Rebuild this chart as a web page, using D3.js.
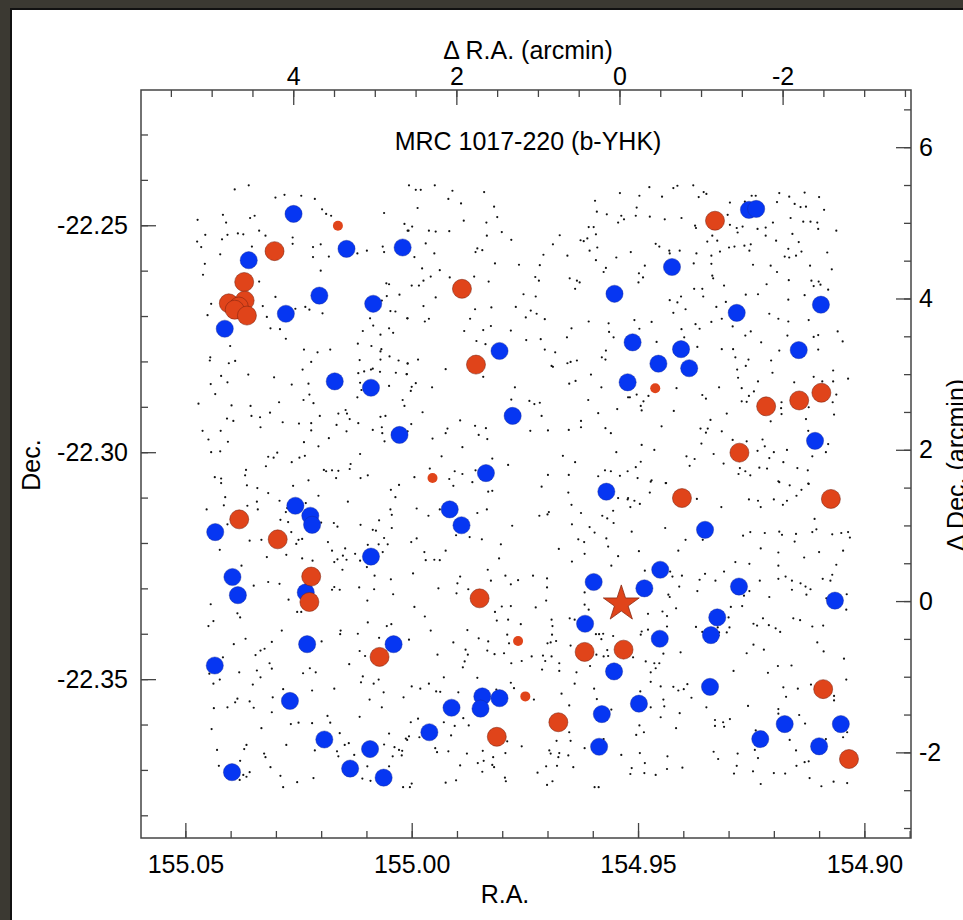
<!DOCTYPE html>
<html>
<head>
<meta charset="utf-8">
<script src="https://cdn.jsdelivr.net/npm/d3@7"></script>
<style>
  body { margin: 0; background: #3b3932; }
  svg { display: block; }
</style>
</head>
<body>
<div id="wrapper"></div>
<script>
// field sources (R.A., Dec. in degrees)
const fieldStars = [
  [155.0391,-22.2421],[155.0360,-22.2412],[155.0301,-22.2439],[155.0281,-22.2433],[155.0244,-22.2435],[155.0214,-22.2442],[155.0198,-22.2465],[155.0189,-22.2475],[155.0178,-22.2479],[155.0473,-22.2488],[155.0417,-22.2477],[155.0410,-22.2494],[155.0357,-22.2484],[155.0347,-22.2479],[155.0061,-22.2473],[155.0016,-22.2497],[155.0007,-22.2512],[155.0456,-22.2521],[155.0407,-22.2521],[155.0384,-22.2518],[155.0372,-22.2520],[155.0419,-22.2531],[155.0337,-22.2512],[155.0323,-22.2523],[155.0263,-22.2527],[155.0474,-22.2536],[155.0465,-22.2548],[155.0353,-22.2547],[155.0263,-22.2541],[155.0218,-22.2548],[155.0201,-22.2542],[155.0120,-22.2562],[155.0099,-22.2556],[155.0064,-22.2547],[155.0061,-22.2559],[155.0423,-22.2564],[155.0218,-22.2570],[155.0183,-22.2569],[155.0457,-22.2585],[155.0461,-22.2609],[155.0201,-22.2600],[155.0337,-22.2624],[155.0056,-22.2628],[155.0050,-22.2630],[155.0443,-22.2673],[155.0451,-22.2698],[155.0329,-22.2678],[155.0301,-22.2658],[155.0320,-22.2702],[155.0257,-22.2684],[155.0235,-22.2680],[155.0226,-22.2686],[155.0197,-22.2694],[155.0055,-22.2656],[155.0066,-22.2666],[155.0027,-22.2653],[155.0047,-22.2689],[155.0036,-22.2690],[155.0010,-22.2705],[155.0092,-22.2705],[155.0085,-22.2721],[155.0312,-22.2727],[155.0291,-22.2729],[155.0278,-22.2750],[155.0108,-22.2733],[155.0069,-22.2741],[155.0050,-22.2727],[155.0041,-22.2737],[155.0401,-22.2766],[155.0119,-22.2761],[155.0089,-22.2766],[155.0067,-22.2773],[155.0069,-22.2778],[155.0445,-22.2791],[155.0446,-22.2798],[155.0238,-22.2774],[155.0208,-22.2780],[155.0180,-22.2774],[155.0404,-22.2804],[155.0390,-22.2799],[155.0222,-22.2801],[155.0115,-22.2797],[155.0090,-22.2818],[155.0069,-22.2796],[155.0049,-22.2789],[155.0029,-22.2798],[155.0009,-22.2804],[155.0241,-22.2818],[155.0118,-22.2826],[155.0105,-22.2822],[155.0086,-22.2816],[155.0070,-22.2823],[155.0035,-22.2825],[155.0011,-22.2828],[155.0421,-22.2832],[155.0361,-22.2829],[155.0304,-22.2835],[155.0407,-22.2846],[155.0444,-22.2850],[155.0265,-22.2851],[155.0228,-22.2849],[155.0114,-22.2847],[155.0111,-22.2863],[155.0050,-22.2854],[155.0434,-22.2872],[155.0226,-22.2873],[155.0239,-22.2885],[155.0120,-22.2879],[155.0020,-22.2885],[155.0016,-22.2898],[155.0471,-22.2893],[155.0293,-22.2890],[155.0217,-22.2892],[155.0398,-22.2897],[155.0356,-22.2898],[155.0354,-22.2920],[155.0335,-22.2923],[155.0313,-22.2913],[155.0408,-22.2926],[155.0394,-22.2931],[155.0285,-22.2934],[155.0249,-22.2937],[155.0222,-22.2936],[155.0203,-22.2920],[155.0162,-22.2915],[155.0146,-22.2907],[155.0143,-22.2915],[155.0137,-22.2927],[155.0118,-22.2936],[155.0166,-22.2940],[155.0069,-22.2922],[155.0058,-22.2920],[155.0462,-22.2953],[155.0422,-22.2953],[155.0334,-22.2945],[155.0222,-22.2952],[155.0144,-22.2954],[155.0086,-22.2951],[155.0066,-22.2945],[155.0065,-22.2958],[155.0009,-22.2954],[155.0449,-22.2972],[155.0406,-22.2977],[155.0238,-22.2978],[155.0183,-22.2969],[155.0060,-22.2976],[155.0443,-22.3000],[155.0423,-22.2998],[155.0206,-22.2987],[155.0317,-22.3010],[155.0305,-22.3012],[155.0297,-22.3001],[155.0248,-22.3012],[155.0236,-22.3008],[155.0265,-22.3022],[155.0114,-22.3004],[155.0322,-22.3031],[155.0194,-22.3039],[155.0189,-22.3042],[155.0176,-22.3040],[155.0162,-22.3041],[155.0137,-22.3037],[155.0135,-22.3026],[155.0366,-22.3039],[155.0368,-22.3051],[155.0435,-22.3055],[155.0421,-22.3058],[155.0228,-22.3062],[155.0167,-22.3057],[155.0113,-22.3057],[155.0097,-22.3051],
  [155.0006,-22.2412],[154.9991,-22.2422],[154.9980,-22.2422],[154.9949,-22.2412],[154.9910,-22.2424],[154.9840,-22.2427],[154.9919,-22.2442],[154.9891,-22.2452],[154.9987,-22.2462],[154.9818,-22.2459],[154.9811,-22.2482],[154.9885,-22.2490],[154.9835,-22.2494],[154.9999,-22.2503],[155.0009,-22.2512],[154.9962,-22.2512],[154.9947,-22.2514],[154.9917,-22.2513],[154.9834,-22.2523],[154.9801,-22.2515],[154.9780,-22.2532],[154.9969,-22.2540],[154.9855,-22.2551],[154.9859,-22.2559],[154.9844,-22.2555],[154.9950,-22.2562],[154.9994,-22.2570],[154.9816,-22.2584],[154.9763,-22.2587],[154.9717,-22.2588],[154.9673,-22.2522],[154.9688,-22.2542],[154.9709,-22.2565],[154.9656,-22.2567],[154.9627,-22.2533],[154.9620,-22.2535],[154.9612,-22.2529],[154.9609,-22.2504],[154.9598,-22.2504],[154.9593,-22.2520],[154.9590,-22.2549],[154.9607,-22.2556],[154.9593,-22.2577],[154.9595,-22.2446],[154.9591,-22.2470],[154.9569,-22.2476],[154.9540,-22.2429],[154.9537,-22.2479],[154.9531,-22.2487],[154.9544,-22.2494],[154.9548,-22.2571],[154.9571,-22.2594],[154.9576,-22.2603],[154.9977,-22.2595],[154.9938,-22.2599],[154.9958,-22.2613],[154.9974,-22.2622],[154.9984,-22.2633],[155.0000,-22.2633],[154.9916,-22.2615],[154.9862,-22.2613],[154.9830,-22.2624],[154.9727,-22.2614],[154.9719,-22.2622],[154.9753,-22.2652],[154.9726,-22.2657],[154.9651,-22.2617],[154.9635,-22.2622],[154.9629,-22.2626],[154.9639,-22.2640],[154.9947,-22.2659],[154.9974,-22.2678],[154.9962,-22.2706],[154.9971,-22.2712],[155.0009,-22.2705],[154.9860,-22.2685],[154.9871,-22.2706],[154.9824,-22.2681],[154.9770,-22.2680],[154.9737,-22.2688],[154.9724,-22.2695],[154.9748,-22.2703],[154.9706,-22.2707],[154.9609,-22.2712],[154.9565,-22.2716],[154.9564,-22.2735],[154.9554,-22.2747],[154.9647,-22.2727],[154.9657,-22.2747],[154.9884,-22.2733],[154.9842,-22.2731],[154.9825,-22.2722],[154.9781,-22.2732],[154.9857,-22.2755],[154.9837,-22.2762],[154.9747,-22.2753],[154.9715,-22.2751],[154.9706,-22.2774],[154.9683,-22.2780],[154.9580,-22.2791],[154.9571,-22.2776],[154.9572,-22.2796],[154.9656,-22.2804],[154.9649,-22.2801],[154.9635,-22.2798],[154.9691,-22.2810],[154.9688,-22.2812],[154.9986,-22.2796],[155.0009,-22.2805],[154.9925,-22.2817],[155.0011,-22.2828],[154.9842,-22.2834],[154.9991,-22.2848],[155.0000,-22.2856],[155.0002,-22.2865],[154.9955,-22.2857],[154.9604,-22.2829],[154.9581,-22.2857],[154.9638,-22.2843],[154.9652,-22.2849],[154.9772,-22.2857],[154.9780,-22.2884],[154.9740,-22.2887],[154.9729,-22.2894],[154.9717,-22.2891],[154.9610,-22.2885],[154.9588,-22.2914],[154.9546,-22.2905],[154.9713,-22.2920],[154.9976,-22.2912],[155.0001,-22.2938],[154.9921,-22.2948],[154.9893,-22.2930],[154.9860,-22.2942],[154.9836,-22.2947],[154.9852,-22.2962],[154.9833,-22.2971],[154.9925,-22.2958],[154.9954,-22.2970],[154.9738,-22.2953],[154.9699,-22.2952],[154.9653,-22.2951],[154.9626,-22.2931],[154.9626,-22.2945],[154.9572,-22.2947],[154.9560,-22.2958],[154.9522,-22.2879],[154.9548,-22.3000],[154.9639,-22.3022],[154.9666,-22.3008],[154.9573,-22.3040],[154.9560,-22.3042],[154.9540,-22.3052],[154.9588,-22.3053],[154.9699,-22.3050],[154.9653,-22.3050],[154.9787,-22.3028],[154.9822,-22.3014],[154.9888,-22.2989],[154.9934,-22.3009],[154.9960,-22.3036],[154.9905,-22.3042],[154.9888,-22.3048],[154.9859,-22.3040],[154.9917,-22.3059],[154.9994,-22.3055],
  [154.9475,-22.2416],[154.9422,-22.2418],[154.9413,-22.2413],[154.9378,-22.2412],[154.9355,-22.2427],[154.9349,-22.2431],[154.9366,-22.2438],[154.9497,-22.2435],[154.9447,-22.2437],[154.9297,-22.2450],[154.9264,-22.2448],[154.9249,-22.2435],[154.9240,-22.2435],[154.9188,-22.2429],[154.9166,-22.2437],[154.9132,-22.2428],[154.9100,-22.2438],[154.9193,-22.2449],[154.9154,-22.2453],[154.9141,-22.2460],[154.9129,-22.2459],[154.9089,-22.2466],[154.9503,-22.2461],[154.9505,-22.2479],[154.9474,-22.2481],[154.9441,-22.2487],[154.9404,-22.2484],[154.9374,-22.2501],[154.9372,-22.2506],[154.9302,-22.2477],[154.9297,-22.2499],[154.9282,-22.2506],[154.9280,-22.2516],[154.9269,-22.2503],[154.9236,-22.2508],[154.9218,-22.2505],[154.9218,-22.2523],[154.9202,-22.2494],[154.9163,-22.2484],[154.9135,-22.2492],[154.9119,-22.2492],[154.9104,-22.2494],[154.9102,-22.2508],[154.9062,-22.2512],[154.9159,-22.2519],[154.9145,-22.2537],[154.9195,-22.2534],[154.9336,-22.2523],[154.9347,-22.2536],[154.9325,-22.2534],[154.9461,-22.2541],[154.9453,-22.2547],[154.9431,-22.2556],[154.9408,-22.2556],[154.9430,-22.2562],[154.9371,-22.2562],[154.9338,-22.2567],[154.9319,-22.2558],[154.9299,-22.2549],[154.9287,-22.2547],[154.9265,-22.2545],[154.9251,-22.2542],[154.9254,-22.2556],[154.9516,-22.2559],[154.9168,-22.2552],[154.9176,-22.2569],[154.9166,-22.2571],[154.9151,-22.2567],[154.9139,-22.2558],[154.9082,-22.2560],[154.9485,-22.2589],[154.9498,-22.2606],[154.9489,-22.2615],[154.9499,-22.2626],[154.9377,-22.2584],[154.9338,-22.2585],[154.9336,-22.2611],[154.9334,-22.2617],[154.9310,-22.2633],[154.9246,-22.2587],[154.9207,-22.2589],[154.9193,-22.2603],[154.9167,-22.2621],[154.9120,-22.2589],[154.9117,-22.2622],[154.9101,-22.2624],[154.9097,-22.2631],[154.9112,-22.2634],[154.9080,-22.2642],[154.9072,-22.2597],[154.9216,-22.2630],[154.9376,-22.2640],[154.9358,-22.2640],[154.9356,-22.2657],[154.9405,-22.2657],[154.9413,-22.2670],[154.9430,-22.2665],[154.9395,-22.2685],[154.9422,-22.2693],[154.9327,-22.2680],[154.9306,-22.2669],[154.9262,-22.2653],[154.9235,-22.2652],[154.9168,-22.2664],[154.9132,-22.2654],[154.9508,-22.2709],[154.9497,-22.2728],[154.9470,-22.2713],[154.9404,-22.2729],[154.9398,-22.2747],[154.9373,-22.2718],[154.9364,-22.2728],[154.9338,-22.2713],[154.9315,-22.2706],[154.9291,-22.2723],[154.9263,-22.2743],[154.9251,-22.2734],[154.9210,-22.2695],[154.9190,-22.2706],[154.9168,-22.2712],[154.9123,-22.2709],[154.9059,-22.2734],[154.9048,-22.2756],[154.9102,-22.2742],[154.9112,-22.2746],[154.9170,-22.2743],[154.9228,-22.2758],[154.9459,-22.2757],[154.9369,-22.2768],[154.9315,-22.2773],[154.9290,-22.2773],[154.9285,-22.2791],[154.9256,-22.2796],[154.9262,-22.2810],[154.9281,-22.2818],[154.9279,-22.2836],[154.9206,-22.2798],[154.9203,-22.2825],[154.9188,-22.2776],[154.9102,-22.2774],[154.9069,-22.2820],[154.9036,-22.2838],[154.9112,-22.2834],[154.9093,-22.2844],[154.9069,-22.2844],[154.9155,-22.2846],[154.9183,-22.2890],[154.9184,-22.2903],[154.9183,-22.2916],[154.9207,-22.2932],[154.9129,-22.2927],[154.9123,-22.2901],[154.9062,-22.2873],[154.9070,-22.2890],[154.9067,-22.2917],[154.9235,-22.2844],[154.9271,-22.2859],[154.9244,-22.2866],[154.9255,-22.2876],[154.9260,-22.2889],[154.9271,-22.2888],[154.9304,-22.2915],[154.9321,-22.2857],[154.9358,-22.2874],[154.9350,-22.2882],[154.9415,-22.2859],[154.9477,-22.2876],[154.9488,-22.2888],[154.9494,-22.2898],[154.9492,-22.2908],[154.9518,-22.2879],[154.9503,-22.2873],[154.9421,-22.2909],[154.9340,-22.2929],[154.9362,-22.2948],[154.9346,-22.2948],[154.9350,-22.2957],[154.9315,-22.2954],[154.9448,-22.2943],[154.9360,-22.2981],[154.9492,-22.2984],[154.9464,-22.2995],[154.9333,-22.3004],[154.9291,-22.2973],[154.9260,-22.2976],[154.9225,-22.2972],[154.9220,-22.2987],[154.9236,-22.2997],[154.9200,-22.3000],[154.9171,-22.2995],[154.9210,-22.3013],[154.9179,-22.3022],[154.9124,-22.2953],[154.9080,-22.2982],[154.9085,-22.3000],[154.9115,-22.3009],[154.9393,-22.3009],[154.9375,-22.3015],[154.9386,-22.3030],[154.9311,-22.3025],[154.9275,-22.3035],[154.9263,-22.3042],[154.9252,-22.3051],[154.9232,-22.3034],[154.9215,-22.3036],[154.9278,-22.3048],[154.9148,-22.3035],[154.9125,-22.3040],[154.9494,-22.3021],[154.9505,-22.3033],[154.9523,-22.3042],[154.9501,-22.3057],[154.9470,-22.3062],[154.9438,-22.3068],[154.9190,-22.3064],[154.9124,-22.3069],
  [155.0421,-22.3068],[155.0364,-22.3073],[155.0341,-22.3079],[155.0317,-22.3090],[155.0262,-22.3074],[155.0412,-22.3099],[155.0415,-22.3117],[155.0363,-22.3118],[155.0342,-22.3109],[155.0340,-22.3126],[155.0292,-22.3107],[155.0278,-22.3132],[155.0275,-22.3123],[155.0234,-22.3112],[155.0206,-22.3096],[155.0141,-22.3109],[155.0453,-22.3126],[155.0407,-22.3159],[155.0332,-22.3193],[155.0358,-22.3195],[155.0290,-22.3149],[155.0273,-22.3154],[155.0266,-22.3176],[155.0250,-22.3193],[155.0255,-22.3202],[155.0242,-22.3191],[155.0200,-22.3155],[155.0172,-22.3156],[155.0164,-22.3164],[155.0185,-22.3198],[155.0113,-22.3160],[155.0086,-22.3171],[155.0079,-22.3173],[155.0072,-22.3150],[155.0061,-22.3189],[155.0073,-22.3203],[155.0053,-22.3203],[155.0044,-22.3167],[155.0047,-22.3126],[155.0044,-22.3138],[155.0036,-22.3099],[155.0028,-22.3072],[155.0046,-22.3083],[155.0424,-22.3215],[155.0320,-22.3231],[155.0277,-22.3226],[155.0242,-22.3234],[155.0219,-22.3239],[155.0176,-22.3217],[155.0171,-22.3242],[155.0164,-22.3236],[155.0152,-22.3228],[155.0144,-22.3237],[155.0147,-22.3212],[155.0125,-22.3224],[155.0114,-22.3239],[155.0097,-22.3204],[155.0099,-22.3253],[155.0064,-22.3220],[155.0082,-22.3272],[155.0046,-22.3280],[155.0041,-22.3313],[155.0153,-22.3259],[155.0376,-22.3250],[155.0349,-22.3294],[155.0317,-22.3286],[155.0292,-22.3290],[155.0272,-22.3325],[155.0253,-22.3352],[155.0244,-22.3352],[155.0176,-22.3303],[155.0171,-22.3297],[155.0159,-22.3303],[155.0116,-22.3298],[155.0083,-22.3302],[155.0098,-22.3327],[155.0444,-22.3335],[155.0438,-22.3372],[155.0449,-22.3383],[155.0385,-22.3355],[155.0379,-22.3364],[155.0097,-22.3375],[155.0055,-22.3383],[155.0045,-22.3379],[155.0157,-22.3393],[155.0158,-22.3401],[155.0119,-22.3400],[155.0072,-22.3409],[155.0367,-22.3411],[155.0393,-22.3423],[155.0345,-22.3447],[155.0334,-22.3437],[155.0325,-22.3433],[155.0309,-22.3418],[155.0287,-22.3393],[155.0199,-22.3417],[155.0115,-22.3438],[155.0103,-22.3449],[155.0108,-22.3494],[155.0112,-22.3507],[155.0084,-22.3510],[155.0073,-22.3501],[155.0062,-22.3529],[155.0138,-22.3467],[155.0314,-22.3465],[155.0309,-22.3477],[155.0342,-22.3481],[155.0334,-22.3496],[155.0381,-22.3485],[155.0417,-22.3452],[155.0447,-22.3488],[155.0424,-22.3501],[155.0438,-22.3510],[155.0351,-22.3512],[155.0240,-22.3487],[155.0225,-22.3476],[155.0212,-22.3485],[155.0220,-22.3525],[155.0171,-22.3521],[155.0093,-22.3545],[155.0066,-22.3562],[155.0018,-22.3540],[155.0115,-22.3583],[155.0186,-22.3581],[155.0180,-22.3596],[155.0220,-22.3597],[155.0250,-22.3596],[155.0267,-22.3599],[155.0284,-22.3522],[155.0307,-22.3540],[155.0309,-22.3573],[155.0332,-22.3608],[155.0390,-22.3551],[155.0407,-22.3562],[155.0437,-22.3564],[155.0358,-22.3549],[155.0349,-22.3563],[155.0385,-22.3543],[155.0442,-22.3610],[155.0430,-22.3656],[155.0370,-22.3654],[155.0365,-22.3645],[155.0326,-22.3664],[155.0323,-22.3672],[155.0277,-22.3645],[155.0214,-22.3657],[155.0159,-22.3619],[155.0148,-22.3645],[155.0139,-22.3641],[155.0165,-22.3659],[155.0162,-22.3670],[155.0127,-22.3667],[155.0061,-22.3644],[155.0050,-22.3620],[155.0038,-22.3650],[155.0028,-22.3656],[155.0021,-22.3658],[155.0042,-22.3670],[155.0022,-22.3668],[155.0010,-22.3634],[155.0006,-22.3626],[155.0050,-22.3692],[155.0426,-22.3691],[155.0379,-22.3680],[155.0372,-22.3711],[155.0365,-22.3715],[155.0358,-22.3705],[155.0380,-22.3722],[155.0312,-22.3694],[155.0290,-22.3713],[155.0284,-22.3738],[155.0253,-22.3727],[155.0217,-22.3718],[155.0109,-22.3719],[155.0091,-22.3724],[155.0098,-22.3692],[155.0019,-22.3738],
  [154.9908,-22.3074],[154.9866,-22.3066],[154.9831,-22.3087],[154.9822,-22.3085],[154.9713,-22.3076],[154.9654,-22.3089],[154.9647,-22.3116],[154.9626,-22.3134],[154.9646,-22.3159],[154.9632,-22.3192],[154.9607,-22.3165],[154.9596,-22.3177],[154.9579,-22.3140],[154.9568,-22.3146],[154.9554,-22.3156],[154.9555,-22.3129],[154.9544,-22.3101],[154.9523,-22.3104],[154.9989,-22.3124],[154.9963,-22.3140],[154.9938,-22.3126],[154.9855,-22.3134],[154.9834,-22.3126],[154.9778,-22.3162],[154.9718,-22.3140],[154.9700,-22.3137],[154.9697,-22.3132],[154.9902,-22.3183],[154.9872,-22.3187],[154.9845,-22.3192],[154.9803,-22.3203],[154.9989,-22.3190],[155.0001,-22.3198],[154.9972,-22.3220],[154.9925,-22.3217],[154.9969,-22.3238],[154.9950,-22.3237],[154.9938,-22.3238],[154.9807,-22.3234],[154.9675,-22.3213],[154.9646,-22.3241],[154.9619,-22.3198],[154.9618,-22.3224],[154.9570,-22.3190],[154.9566,-22.3208],[154.9544,-22.3229],[154.9559,-22.3250],[154.9832,-22.3259],[154.9997,-22.3267],[154.9893,-22.3274],[154.9899,-22.3289],[154.9901,-22.3311],[154.9875,-22.3302],[154.9825,-22.3283],[154.9793,-22.3272],[154.9765,-22.3282],[154.9781,-22.3291],[154.9732,-22.3272],[154.9701,-22.3278],[154.9701,-22.3298],[154.9703,-22.3327],[154.9726,-22.3342],[154.9781,-22.3339],[154.9801,-22.3340],[154.9941,-22.3300],[154.9994,-22.3341],[154.9971,-22.3362],[154.9958,-22.3393],[155.0006,-22.3413],[154.9908,-22.3419],[154.9877,-22.3392],[154.9852,-22.3410],[154.9831,-22.3417],[154.9833,-22.3437],[154.9817,-22.3445],[154.9796,-22.3443],[154.9816,-22.3352],[154.9812,-22.3371],[154.9787,-22.3369],[154.9759,-22.3379],[154.9757,-22.3460],[154.9780,-22.3465],[154.9881,-22.3435],[154.9876,-22.3446],[154.9883,-22.3461],[154.9887,-22.3474],[154.9943,-22.3446],[154.9855,-22.3497],[154.9929,-22.3496],[154.9789,-22.3402],[154.9785,-22.3421],[154.9735,-22.3450],[154.9710,-22.3448],[154.9705,-22.3460],[154.9691,-22.3450],[154.9674,-22.3465],[154.9693,-22.3419],[154.9690,-22.3402],[154.9681,-22.3416],[154.9700,-22.3421],[154.9712,-22.3479],[154.9674,-22.3482],[154.9691,-22.3369],[154.9689,-22.3383],[154.9651,-22.3366],[154.9640,-22.3369],[154.9649,-22.3426],[154.9636,-22.3485],[154.9618,-22.3309],[154.9618,-22.3336],[154.9609,-22.3347],[154.9593,-22.3401],[154.9586,-22.3401],[154.9577,-22.3400],[154.9555,-22.3405],[154.9581,-22.3412],[154.9576,-22.3450],[154.9566,-22.3449],[154.9568,-22.3436],[154.9592,-22.3446],[154.9606,-22.3471],[154.9640,-22.3510],[154.9597,-22.3521],[154.9591,-22.3544],[154.9559,-22.3567],[154.9652,-22.3558],[154.9669,-22.3532],[154.9730,-22.3545],[154.9781,-22.3508],[154.9774,-22.3520],[154.9813,-22.3523],[154.9803,-22.3527],[154.9886,-22.3586],[154.9874,-22.3602],[154.9905,-22.3603],[154.9929,-22.3595],[154.9897,-22.3529],[154.9937,-22.3528],[154.9946,-22.3527],[154.9962,-22.3510],[154.9981,-22.3521],[155.0000,-22.3516],[154.9986,-22.3587],[155.0002,-22.3595],[155.0013,-22.3631],[154.9983,-22.3628],[154.9948,-22.3652],[154.9944,-22.3661],[154.9919,-22.3659],[154.9913,-22.3624],[154.9878,-22.3664],[154.9843,-22.3658],[154.9854,-22.3685],[154.9841,-22.3680],[154.9822,-22.3689],[154.9820,-22.3672],[154.9818,-22.3694],[154.9793,-22.3663],[154.9789,-22.3637],[154.9757,-22.3648],[154.9794,-22.3717],[154.9792,-22.3725],[154.9844,-22.3704],[154.9893,-22.3690],[154.9925,-22.3728],[154.9902,-22.3723],[155.0000,-22.3730],[155.0004,-22.3738],[154.9722,-22.3706],[154.9703,-22.3692],[154.9679,-22.3691],[154.9643,-22.3694],[154.9701,-22.3733],[154.9689,-22.3725],[154.9696,-22.3657],[154.9693,-22.3664],[154.9676,-22.3672],[154.9674,-22.3663],[154.9654,-22.3668],[154.9618,-22.3652],[154.9652,-22.3617],[154.9649,-22.3636],[154.9680,-22.3636],[154.9596,-22.3738],[154.9587,-22.3738],[154.9537,-22.3667],[154.9576,-22.3632],
  [154.9472,-22.3065],[154.9439,-22.3068],[154.9188,-22.3066],[154.9165,-22.3073],[154.9123,-22.3070],[154.9139,-22.3083],[154.9150,-22.3096],[154.9171,-22.3107],[154.9180,-22.3116],[154.9200,-22.3104],[154.9255,-22.3104],[154.9235,-22.3107],[154.9229,-22.3121],[154.9316,-22.3121],[154.9370,-22.3103],[154.9522,-22.3101],[154.9508,-22.3107],[154.9496,-22.3114],[154.9517,-22.3121],[154.9474,-22.3089],[154.9440,-22.3167],[154.9514,-22.3175],[154.9395,-22.3193],[154.9357,-22.3193],[154.9498,-22.3218],[154.9411,-22.3217],[154.9268,-22.3184],[154.9252,-22.3176],[154.9220,-22.3178],[154.9188,-22.3175],[154.9182,-22.3182],[154.9151,-22.3180],[154.9154,-22.3197],[154.9115,-22.3176],[154.9106,-22.3170],[154.9110,-22.3147],[154.9071,-22.3181],[154.9051,-22.3178],[154.9036,-22.3176],[154.9032,-22.3188],[154.9229,-22.3212],[154.9190,-22.3221],[154.9133,-22.3232],[154.9100,-22.3220],[154.9047,-22.3217],[154.9062,-22.3248],[154.9285,-22.3242],[154.9254,-22.3246],[154.9190,-22.3250],[154.9352,-22.3268],[154.9310,-22.3263],[154.9403,-22.3272],[154.9424,-22.3274],[154.9429,-22.3263],[154.9485,-22.3261],[154.9364,-22.3281],[154.9329,-22.3283],[154.9369,-22.3306],[154.9409,-22.3296],[154.9231,-22.3283],[154.9190,-22.3279],[154.9174,-22.3274],[154.9160,-22.3283],[154.9141,-22.3289],[154.9130,-22.3296],[154.9119,-22.3302],[154.9128,-22.3314],[154.9160,-22.3303],[154.9092,-22.3279],[154.9075,-22.3283],[154.9071,-22.3270],[154.9039,-22.3313],[154.9040,-22.3347],[154.9084,-22.3322],[154.9254,-22.3306],[154.9266,-22.3316],[154.9210,-22.3319],[154.9270,-22.3339],[154.9295,-22.3341],[154.9433,-22.3314],[154.9430,-22.3319],[154.9416,-22.3344],[154.9478,-22.3356],[154.9446,-22.3351],[154.9436,-22.3361],[154.9436,-22.3384],[154.9478,-22.3391],[154.9492,-22.3395],[154.9494,-22.3402],[154.9372,-22.3385],[154.9358,-22.3396],[154.9324,-22.3386],[154.9321,-22.3397],[154.9322,-22.3404],[154.9304,-22.3397],[154.9298,-22.3386],[154.9300,-22.3364],[154.9245,-22.3378],[154.9237,-22.3382],[154.9224,-22.3366],[154.9211,-22.3381],[154.9196,-22.3388],[154.9186,-22.3396],[154.9157,-22.3366],[154.9142,-22.3370],[154.9115,-22.3384],[154.9091,-22.3382],[154.9104,-22.3419],[154.9090,-22.3439],[154.9045,-22.3455],[154.9040,-22.3501],[154.9067,-22.3537],[154.9067,-22.3547],[154.9118,-22.3512],[154.9147,-22.3521],[154.9179,-22.3518],[154.9173,-22.3539],[154.9161,-22.3470],[154.9191,-22.3471],[154.9213,-22.3486],[154.9222,-22.3435],[154.9245,-22.3424],[154.9260,-22.3443],[154.9289,-22.3482],[154.9406,-22.3441],[154.9444,-22.3444],[154.9511,-22.3452],[154.9483,-22.3461],[154.9464,-22.3465],[154.9453,-22.3465],[154.9461,-22.3476],[154.9472,-22.3485],[154.9472,-22.3506],[154.9450,-22.3516],[154.9422,-22.3517],[154.9411,-22.3525],[154.9399,-22.3522],[154.9391,-22.3511],[154.9382,-22.3541],[154.9349,-22.3562],[154.9444,-22.3545],[154.9442,-22.3560],[154.9472,-22.3562],[154.9450,-22.3584],[154.9495,-22.3527],[154.9497,-22.3602],[154.9504,-22.3623],[154.9487,-22.3617],[154.9416,-22.3608],[154.9408,-22.3575],[154.9330,-22.3590],[154.9312,-22.3595],[154.9310,-22.3605],[154.9297,-22.3588],[154.9330,-22.3603],[154.9257,-22.3559],[154.9190,-22.3566],[154.9190,-22.3576],[154.9144,-22.3579],[154.9131,-22.3598],[154.9165,-22.3634],[154.9240,-22.3613],[154.9235,-22.3674],[154.9242,-22.3656],[154.9151,-22.3657],[154.9150,-22.3691],[154.9132,-22.3683],[154.9123,-22.3681],[154.9085,-22.3632],[154.9047,-22.3628],[154.9038,-22.3617],[154.9054,-22.3602],[154.9280,-22.3664],[154.9333,-22.3660],[154.9323,-22.3676],[154.9282,-22.3691],[154.9288,-22.3708],[154.9246,-22.3703],[154.9200,-22.3707],[154.9175,-22.3708],[154.9229,-22.3731],[154.9121,-22.3718],[154.9095,-22.3736],[154.9068,-22.3726],[154.9038,-22.3729],[154.9496,-22.3663],[154.9485,-22.3685],[154.9514,-22.3696],[154.9517,-22.3709],[154.9486,-22.3707],[154.9461,-22.3711],[154.9436,-22.3698],[154.9402,-22.3695],[154.9435,-22.3670]
];

// b-YHK colour selected galaxies
const blueSources = [
  [155.0261,-22.2475],[155.0360,-22.2577],[155.0144,-22.2552],[155.0020,-22.2549],[155.0204,-22.2655],[155.0085,-22.2673],[155.0278,-22.2695],[155.0413,-22.2728],[155.0170,-22.2844],[155.0090,-22.2858],[155.0027,-22.2962],[154.9806,-22.2777],[154.9777,-22.2920],[154.9836,-22.3046],[154.9552,-22.2651],[154.9255,-22.2466],[154.9239,-22.2464],[154.9425,-22.2592],[154.9096,-22.2675],[154.9282,-22.2693],[154.9512,-22.2758],[154.9405,-22.2773],[154.9455,-22.2805],[154.9387,-22.2815],[154.9523,-22.2846],[154.9145,-22.2775],[154.9109,-22.2975],[154.9570,-22.3087],[155.0257,-22.3118],[155.0224,-22.3140],[155.0220,-22.3160],[154.9916,-22.3126],[154.9890,-22.3161],[155.0434,-22.3176],[155.0090,-22.3230],[155.0396,-22.3275],[155.0384,-22.3315],[155.0234,-22.3309],[155.0231,-22.3423],[155.0040,-22.3423],[155.0435,-22.3470],[155.0269,-22.3548],[155.0193,-22.3633],[155.0092,-22.3654],[155.0136,-22.3697],[155.0062,-22.3717],[155.0397,-22.3705],[154.9598,-22.3286],[154.9617,-22.3378],[154.9553,-22.3483],[154.9844,-22.3538],[154.9848,-22.3565],[154.9806,-22.3542],[154.9912,-22.3563],[154.9580,-22.3577],[154.9961,-22.3617],[154.9586,-22.3649],[154.9352,-22.3171],[154.9451,-22.3259],[154.9486,-22.3300],[154.9277,-22.3296],[154.9065,-22.3327],[154.9325,-22.3364],[154.9339,-22.3403],[154.9452,-22.3411],[154.9341,-22.3517],[154.9498,-22.3554],[154.9176,-22.3599],[154.9052,-22.3599],[154.9230,-22.3632],[154.9100,-22.3648]
];
const redSources = [
  [155.0303,-22.2557],[155.0370,-22.2625],[155.0404,-22.2672],[155.0369,-22.2666],[155.0382,-22.2679],[155.0391,-22.2686],[155.0364,-22.2699],[154.9889,-22.2640],[154.9858,-22.2807],[154.9330,-22.2490],[154.9217,-22.2899],[154.9144,-22.2886],[154.9095,-22.2869],[154.9276,-22.3001],[154.9403,-22.3101],[154.9074,-22.3103],[155.0381,-22.3148],[155.0296,-22.3192],[155.0222,-22.3274],[155.0226,-22.3330],[155.0071,-22.3451],[154.9850,-22.3322],[154.9618,-22.3440],[154.9532,-22.3435],[154.9676,-22.3595],[154.9812,-22.3627],[154.9091,-22.3522],[154.9034,-22.3676]
];
const redFaint = [
  [155.0163,-22.2501],[154.9462,-22.2859],[154.9954,-22.3057],[154.9765,-22.3416],[154.9749,-22.3538]
];
const radioGalaxy = [154.9537, -22.3334];

// axis ranges and ticks
const raRange = [155.0598, 154.8897];
const decRange = [-22.2202, -22.3850];
const offsetOrigin = [154.9541, -22.3328];
const raTicks = [155.05, 155.00, 154.95, 154.90];
const decTicks = [-22.25, -22.30, -22.35];
const dRaTicks = [4, 2, 0, -2];
const dDecTicks = [6, 4, 2, 0, -2];

const titleText = "MRC 1017-220 (b-YHK)";

function drawChart() {
  const dimensions = {
    width: 963,
    height: 920,
    margin: { top: 90, right: 52, bottom: 82, left: 141 },
  };
  dimensions.boundedWidth = dimensions.width - dimensions.margin.left - dimensions.margin.right;
  dimensions.boundedHeight = dimensions.height - dimensions.margin.top - dimensions.margin.bottom;

  const font = "'Liberation Sans', Arial, Helvetica, sans-serif";
  const fontSize = 25;

  const svg = d3.select("#wrapper").append("svg")
    .attr("width", dimensions.width)
    .attr("height", dimensions.height);

  // slide background + white panel
  svg.append("rect").attr("width", dimensions.width).attr("height", dimensions.height).attr("fill", "#3b3932");
  svg.append("rect")
    .attr("x", 11).attr("y", 9)
    .attr("width", dimensions.width).attr("height", dimensions.height)
    .attr("fill", "#ffffff").attr("stroke", "#111").attr("stroke-width", 2);

  const bounds = svg.append("g")
    .attr("transform", `translate(${dimensions.margin.left},${dimensions.margin.top})`);

  // scales
  const xScale = d3.scaleLinear().domain(raRange).range([0, dimensions.boundedWidth]);
  const yScale = d3.scaleLinear().domain(decRange).range([0, dimensions.boundedHeight]);
  const cosDec = Math.cos(offsetOrigin[1] * Math.PI / 180);
  const dRaScale = d3.scaleLinear()
    .domain(raRange.map(d => (d - offsetOrigin[0]) * 60 * cosDec))
    .range([0, dimensions.boundedWidth]);
  const dDecScale = d3.scaleLinear()
    .domain(decRange.map(d => (d - offsetOrigin[1]) * 60))
    .range([0, dimensions.boundedHeight]);

  // points
  bounds.append("g").selectAll("circle")
    .data(fieldStars).join("circle")
    .attr("cx", d => xScale(d[0]))
    .attr("cy", d => yScale(d[1]))
    .attr("r", 1.1)
    .attr("fill", "#111");

  bounds.append("g").selectAll("circle")
    .data(blueSources).join("circle")
    .attr("cx", d => xScale(d[0]))
    .attr("cy", d => yScale(d[1]))
    .attr("r", 8.6)
    .attr("fill", "#0636f2")
    .attr("stroke", "#1a2a90")
    .attr("stroke-opacity", 0.5)
    .attr("stroke-width", 0.8);

  bounds.append("g").selectAll("circle")
    .data(redSources).join("circle")
    .attr("cx", d => xScale(d[0]))
    .attr("cy", d => yScale(d[1]))
    .attr("r", 9.5)
    .attr("fill", "#e0441a")
    .attr("stroke", "#7a2410")
    .attr("stroke-opacity", 0.6)
    .attr("stroke-width", 0.9);

  bounds.append("g").selectAll("circle")
    .data(redFaint).join("circle")
    .attr("cx", d => xScale(d[0]))
    .attr("cy", d => yScale(d[1]))
    .attr("r", 5)
    .attr("fill", "#e0441a");

  bounds.append("path")
    .attr("d", d3.symbol(d3.symbolStar, 400)())
    .attr("transform", `translate(${xScale(radioGalaxy[0])},${yScale(radioGalaxy[1])})`)
    .attr("fill", "#e0441a")
    .attr("stroke", "#8a2a12")
    .attr("stroke-width", 0.8);

  // axes
  const styleAxis = g => {
    g.select(".domain").remove();
    g.selectAll("line").attr("stroke", "#444").attr("stroke-width", 1.3);
    g.selectAll("text").attr("fill", "#000").attr("font-family", font).attr("font-size", fontSize);
  };
  const minorTicks = (scale, step) => {
    const [a, b] = d3.extent(scale.domain());
    return d3.range(Math.ceil(a / step), Math.floor(b / step) + 1).map(i => i * step);
  };

  // bottom R.A.
  bounds.append("g").attr("transform", `translate(0,${dimensions.boundedHeight})`)
    .call(d3.axisBottom(xScale).tickValues(minorTicks(xScale, 0.01)).tickSize(-7).tickFormat(""))
    .call(styleAxis);
  bounds.append("g").attr("transform", `translate(0,${dimensions.boundedHeight})`)
    .call(d3.axisBottom(xScale).tickValues(raTicks).tickSize(-15).tickPadding(17).tickFormat(d => d.toFixed(2)))
    .call(styleAxis);

  // left Dec.
  bounds.append("g")
    .call(d3.axisLeft(yScale).tickValues(minorTicks(yScale, 0.01)).tickSize(-7).tickFormat(""))
    .call(styleAxis);
  bounds.append("g")
    .call(d3.axisLeft(yScale).tickValues(decTicks).tickSize(-15).tickPadding(13).tickFormat(d => d.toFixed(2)))
    .call(styleAxis);

  // top delta R.A.
  bounds.append("g")
    .call(d3.axisTop(dRaScale).tickValues(minorTicks(dRaScale, 0.5)).tickSize(-7).tickFormat(""))
    .call(styleAxis);
  bounds.append("g")
    .call(d3.axisTop(dRaScale).tickValues(dRaTicks).tickSize(-15).tickPadding(5).tickFormat(d => String(d)))
    .call(styleAxis);

  // right delta Dec.
  bounds.append("g").attr("transform", `translate(${dimensions.boundedWidth},0)`)
    .call(d3.axisRight(dDecScale).tickValues(minorTicks(dDecScale, 0.5)).tickSize(-7).tickFormat(""))
    .call(styleAxis);
  bounds.append("g").attr("transform", `translate(${dimensions.boundedWidth},0)`)
    .call(d3.axisRight(dDecScale).tickValues(dDecTicks).tickSize(-15).tickPadding(8).tickFormat(d => String(d)))
    .call(styleAxis);

  // frame
  bounds.append("rect")
    .attr("width", dimensions.boundedWidth)
    .attr("height", dimensions.boundedHeight)
    .attr("fill", "none")
    .attr("stroke", "#444")
    .attr("stroke-width", 1.5);

  // labels
  const label = (txt, x, y, rotate) => svg.append("text")
    .attr("transform", `translate(${x},${y})` + (rotate ? ` rotate(${rotate})` : ""))
    .attr("text-anchor", "middle")
    .attr("font-family", font)
    .attr("font-size", fontSize)
    .attr("fill", "#000")
    .text(txt);

  label(titleText, 528, 150);
  label("\u0394 R.A. (arcmin)", 528, 59);
  label("R.A.", 505, 903);
  label("Dec.", 40, 465, -90);
  label("\u0394 Dec. (arcmin)", 965, 465, -90);
}

drawChart();
</script>
</body>
</html>
